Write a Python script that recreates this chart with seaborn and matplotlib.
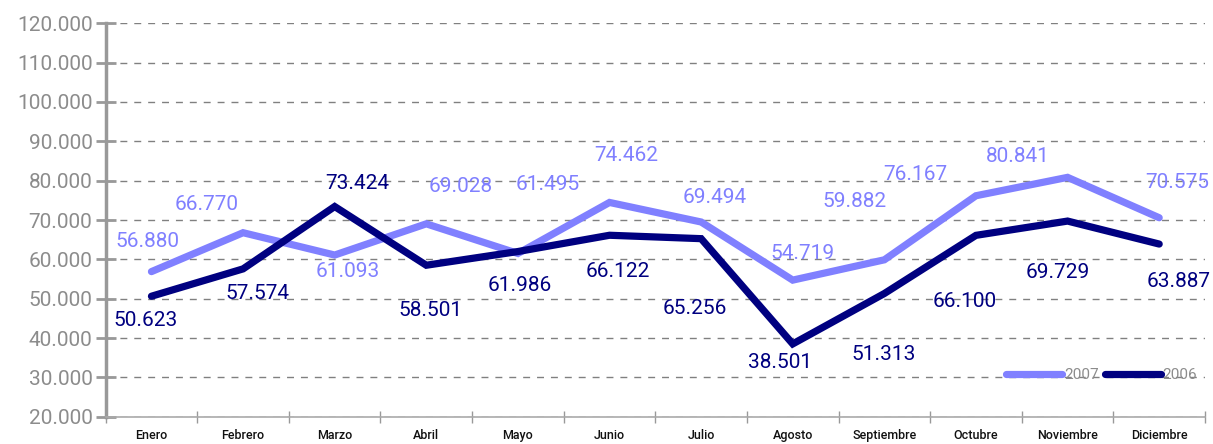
import matplotlib
matplotlib.use('Agg')
import matplotlib.pyplot as plt
import matplotlib.ticker as mticker
import pandas as pd
import seaborn as sns

meses = ['Enero', 'Febrero', 'Marzo', 'Abril', 'Mayo', 'Junio', 'Julio',
         'Agosto', 'Septiembre', 'Octubre', 'Noviembre', 'Diciembre']
v2007 = [56880, 66770, 61093, 69028, 61495, 74462, 69494, 54719, 59882, 76167, 80841, 70575]
v2006 = [50623, 57574, 73424, 58501, 61986, 66122, 65256, 38501, 51313, 66100, 69729, 63887]

# desplazamiento de las etiquetas (pixeles, respecto al punto)
off2007 = [(-4, 30), (-36, 28), (13, -16), (34, 37), (30, 69), (17, 47),
           (14, 24), (10, 27), (-30, 58), (-61, 21), (-50, 21), (18, 35)]
off2006 = [(-6, -24), (14, -25), (23, 23), (4, -45), (2, -34), (8, -36),
           (-6, -70), (-13, -19), (-1, -61), (-11, -66), (-10, -51), (19, -37)]

c07 = '#8080ff'
c06 = '#000080'
gris = '#8c8c8c'

df = pd.DataFrame({
    'mes': list(range(12)) * 2,
    'valor': v2007 + v2006,
    'anio': ['2007'] * 12 + ['2006'] * 12,
})

plt.rcParams['font.family'] = ['Roboto', 'DejaVu Sans']

fig, ax = plt.subplots(figsize=(12.13, 4.44), dpi=100)
fig.subplots_adjust(left=0.0871, right=0.9934, top=0.9475, bottom=0.0615)

sns.lineplot(data=df, x='mes', y='valor', hue='anio', palette={'2007': c07, '2006': c06},
             linewidth=5.2, ax=ax, solid_capstyle='round', solid_joinstyle='miter')

fmt = lambda v: f'{v:,}'.replace(',', '.')
for i in range(12):
    ax.annotate(fmt(v2007[i]), (i, v2007[i]), xytext=off2007[i], textcoords='offset pixels',
                ha='center', va='center', color=c07, fontsize=15)
    ax.annotate(fmt(v2006[i]), (i, v2006[i]), xytext=off2006[i], textcoords='offset pixels',
                ha='center', va='center', color=c06, fontsize=15)

ax.set_xlim(-0.5, 11.5)
ax.set_ylim(20000, 120000)
ax.yaxis.set_major_locator(mticker.MultipleLocator(10000))
ax.yaxis.set_major_formatter(mticker.FuncFormatter(lambda v, p: fmt(int(v))))
ax.grid(axis='y', color='#808080', linestyle=(0, (5, 5)), linewidth=1)
ax.set_axisbelow(True)

ax.set_xticks([i - 0.5 for i in range(13)])
ax.set_xticklabels([])
ax.set_xticks(range(12), minor=True)
ax.set_xticklabels(meses, minor=True, fontsize=9, color='#111111', fontweight='medium')
ax.tick_params(axis='x', which='major', direction='inout', length=8, color='#999999', width=1)
ax.tick_params(axis='x', which='minor', length=0, pad=9)
ax.tick_params(axis='y', direction='inout', length=15, width=2, color='#999999',
               labelsize=15, labelcolor=gris, pad=2)

for s in ['top', 'right']:
    ax.spines[s].set_visible(False)
ax.spines['left'].set_color('#999999')
ax.spines['left'].set_linewidth(2.5)
ax.spines['bottom'].set_color('#aaaaaa')
ax.spines['bottom'].set_linewidth(1.2)

ax.set_xlabel('')
ax.set_ylabel('')
leg = ax.legend(loc='center right', bbox_to_anchor=(0.993, 0.105), ncol=2, frameon=False,
                fontsize=11, handlelength=3.7, handletextpad=0.1, columnspacing=0.4,
                borderpad=0, borderaxespad=0)
for t in leg.get_texts():
    t.set_color(gris)

fig.savefig('out.png', dpi=100)
